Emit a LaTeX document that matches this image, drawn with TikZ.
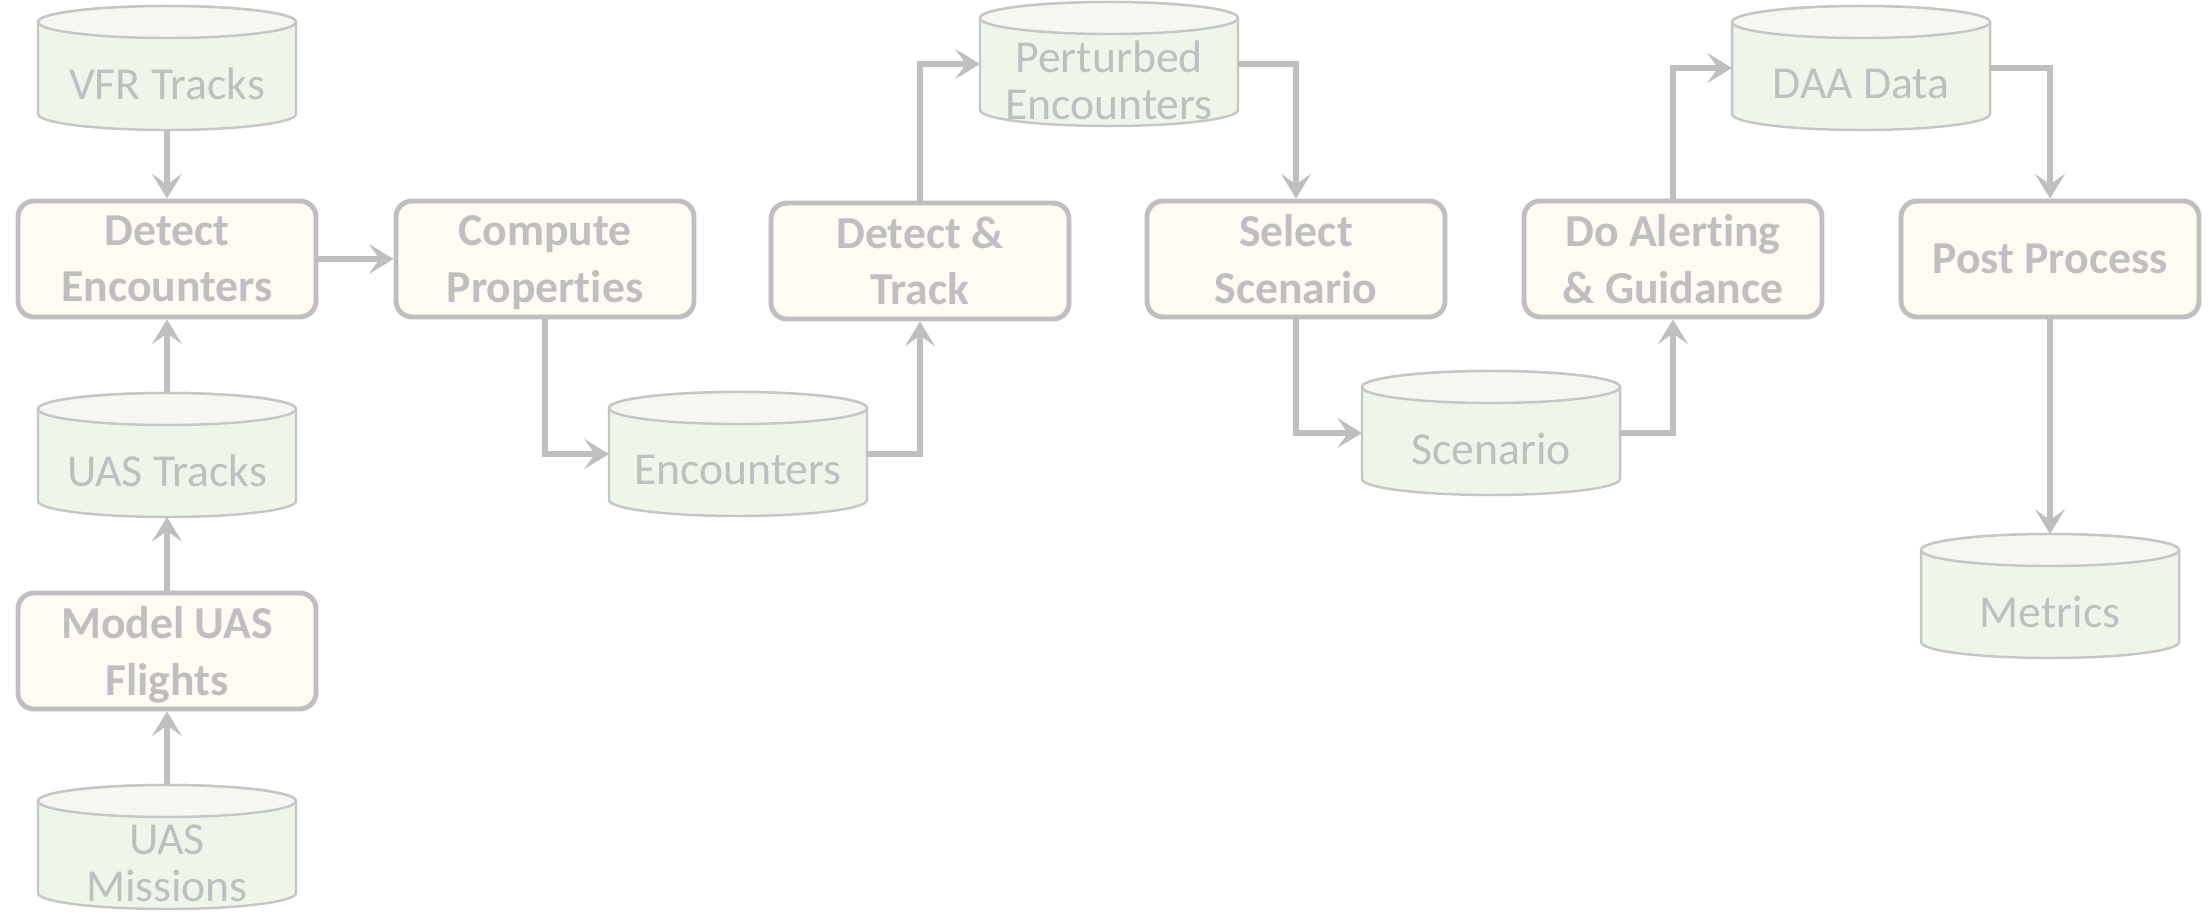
\documentclass[tikz,border=0pt]{standalone}
\usepackage{fontspec}
\setmainfont{Carlito}[Ligatures=NoCommon]
\usetikzlibrary{arrows.meta,backgrounds}
\definecolor{edgegray}{HTML}{BFBFBF}
\definecolor{procfill}{HTML}{FFFAF2}
\definecolor{storefill}{HTML}{EEF5E9}
\definecolor{storetop}{HTML}{F4F8F0}
\definecolor{storeline}{HTML}{C6C6C6}
\begin{document}
\begin{tikzpicture}
  \tikzset{
    proc/.style={draw=edgegray, line width=1.4pt, fill=procfill, rounded corners=1.6mm, minimum width=2.98cm, minimum height=1.16cm, align=center, text depth=0pt, text=edgegray, font=\fontsize{13}{16}\selectfont\bfseries},
    store/.style={minimum width=2.58cm, minimum height=0.92cm, inner sep=0pt, align=center, text depth=0pt, text=edgegray, font=\fontsize{13}{13.2}\selectfont},
    storeshape/.style={draw=storeline, line width=0.7pt},
    flow/.style={draw=edgegray, line width=1.7pt, -{Stealth[length=7pt,width=8.5pt,inset=3pt]}}
  }
  \useasboundingbox (0,0) rectangle (22.11,-9.12);

  \node[store] (vfr) at (1.67,-0.84) {VFR Tracks};
  \node[store] (uastr) at (1.67,-4.71) {UAS Tracks};
  \node[store] (mis) at (1.67,-8.63) {UAS\\Missions};
  \node[store] (enc) at (7.38,-4.70) {Encounters};
  \node[store] (pert) at (11.09,-0.80) {Perturbed\\Encounters};
  \node[store] (scen) at (14.91,-4.49) {Scenario};
  \node[store] (daa) at (18.61,-0.84) {DAA Data};
  \node[store] (metr) at (20.50,-6.12) {Metrics};

  \node[proc] (detenc) at (1.67,-2.59) {Detect\\Encounters};
  \node[proc] (comp) at (5.45,-2.59) {Compute\\Properties};
  \node[proc] (dettrack) at (9.20,-2.61) {Detect \&\\Track};
  \node[proc] (selscen) at (12.96,-2.59) {Select\\Scenario};
  \node[proc] (alert) at (16.73,-2.59) {Do Alerting\\\& Guidance};
  \node[proc] (post) at (20.50,-2.59) {Post Process};
  \node[proc] (model) at (1.67,-6.51) {Model UAS\\Flights};

  \begin{scope}[on background layer]
    \foreach \n in {vfr,uastr,mis,enc,pert,scen,daa,metr} {
      \draw[storeshape, fill=storefill] ([shift={(-1.29,0.62)}]\n.center) -- ([shift={(-1.29,-0.30)}]\n.center)
        arc[start angle=180, end angle=360, x radius=1.29, y radius=0.16] -- ([shift={(1.29,0.62)}]\n.center)
        arc[start angle=0, end angle=180, x radius=1.29, y radius=0.16] -- cycle;
      \draw[storeshape, fill=storetop] ([yshift=6.2mm]\n.center) ellipse [x radius=1.29, y radius=0.16];
    }
  \end{scope}

  \draw[flow] ([yshift=-4.6mm]vfr.center) -- (detenc.north);
  \draw[flow] ([yshift=7.8mm]uastr.center) -- (detenc.south);
  \draw[flow] (model.north) -- ([yshift=-4.6mm]uastr.center);
  \draw[flow] ([yshift=7.8mm]mis.center) -- (model.south);
  \draw[flow] (detenc.east) -- (comp.west);
  \draw[flow] (comp.south) |- ([shift={(-1.29,0.16)}]enc.center);
  \draw[flow] ([shift={(1.29,0.16)}]enc.center) -| (dettrack.south);
  \draw[flow] (dettrack.north) |- ([shift={(-1.29,0.16)}]pert.center);
  \draw[flow] ([shift={(1.29,0.16)}]pert.center) -| (selscen.north);
  \draw[flow] (selscen.south) |- ([shift={(-1.29,0.16)}]scen.center);
  \draw[flow] ([shift={(1.29,0.16)}]scen.center) -| (alert.south);
  \draw[flow] (alert.north) |- ([shift={(-1.29,0.16)}]daa.center);
  \draw[flow] ([shift={(1.29,0.16)}]daa.center) -| (post.north);
  \draw[flow] (post.south) -- ([yshift=7.8mm]metr.center);
\end{tikzpicture}
\end{document}
